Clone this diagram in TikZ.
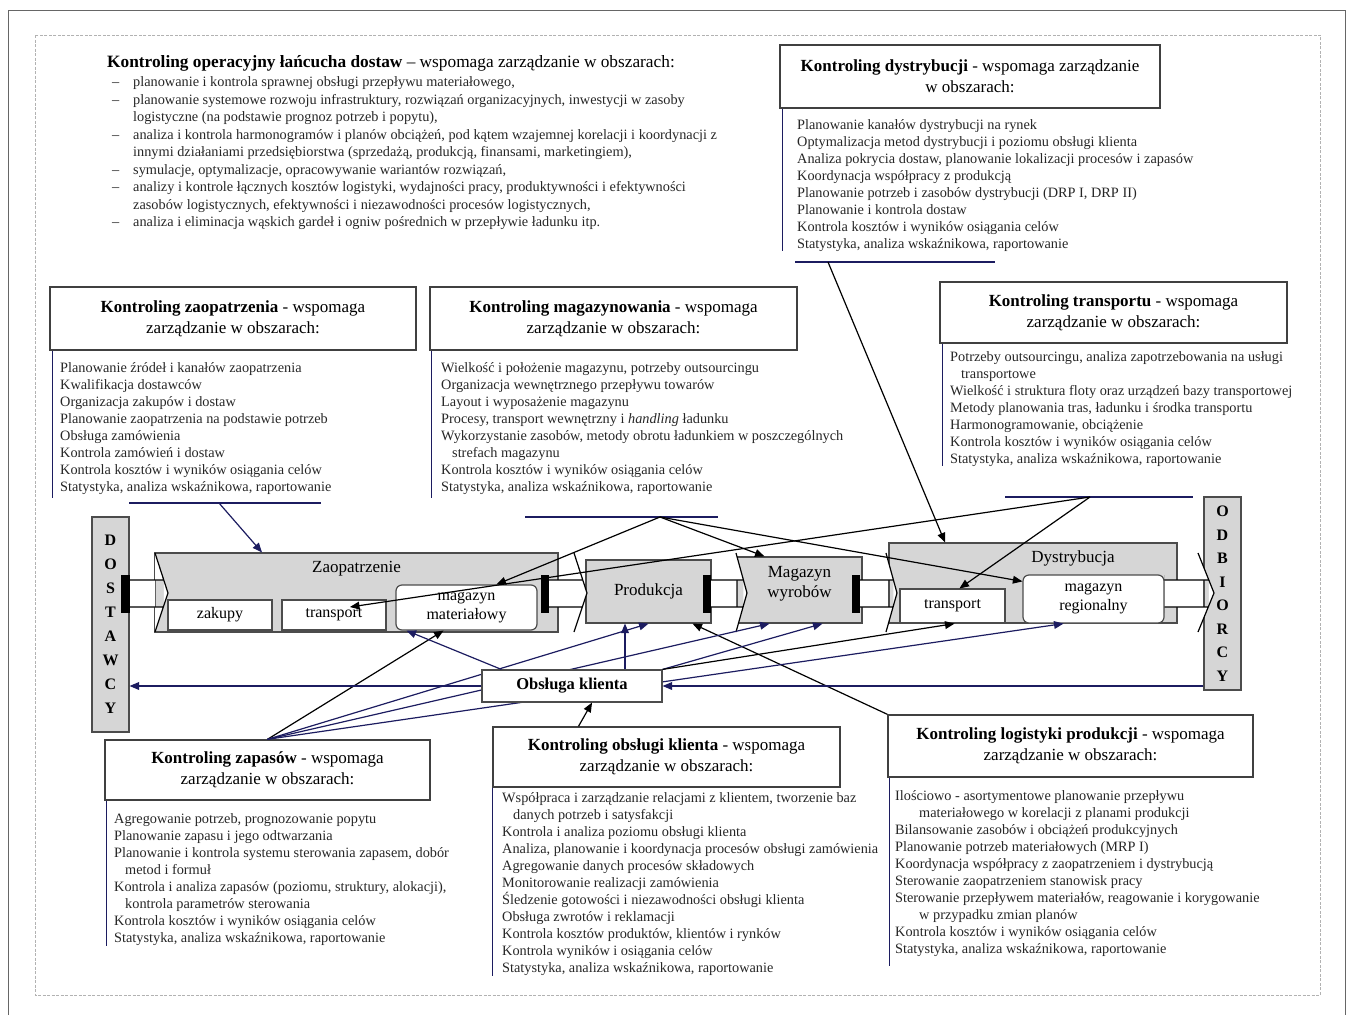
\documentclass[tikz,border=0pt]{standalone}
\usepackage{fontspec}
\setmainfont{Liberation Serif}
\usetikzlibrary{arrows}

\definecolor{granat}{RGB}{28,28,96}
\definecolor{szary}{RGB}{214,214,214}

\newcommand{\punkt}{\makebox[21pt][l]{–}}
\newcommand{\dalej}{\hspace*{21pt}}
\newcommand{\wc}{\hspace*{11pt}}

\begin{document}
\begin{tikzpicture}[>=triangle 45,x=1pt,y=-1pt,
  naglowek/.style={draw=black!75,line width=1.4pt,fill=white,inner sep=0pt,align=center,font=\fontsize{17}{21}\selectfont},
  lista/.style={anchor=north west,inner sep=0pt,align=left,text=black!85,font=\fontsize{14.3}{17}\selectfont,execute at begin node=\strut},
  proces/.style={draw=black!70,line width=1.2pt,fill=szary,inner sep=0pt,align=center,font=\fontsize{17}{20}\selectfont},
  etap/.style={draw=black!70,line width=1.2pt,fill=white,inner sep=0pt,align=center,font=\fontsize{16}{19}\selectfont},
  pion/.style={granat,line width=1.5pt},
  strz/.style={->,line width=1.2pt}]
\useasboundingbox (0,0) rectangle (1347,1015);
% ramki
\draw[black!60,line width=1pt] (8,1015) -- (8,10) -- (1345,10) -- (1345,1015);
\draw[black!30,line width=1pt,dash pattern=on 3pt off 1.5pt] (35,35) rectangle (1320,995);

% kontroling operacyjny
\node[anchor=base west,inner sep=0pt,font=\fontsize{17.3}{20}\selectfont] (oper) at (107,67) {\textbf{Kontroling operacyjny łańcucha dostaw} – wspomaga zarządzanie w obszarach:};
\node[lista,font=\fontsize{14.3}{17.5}\selectfont] (operlista) at (112,76.5) {\punkt planowanie i kontrola sprawnej obsługi przepływu materiałowego,\\
\punkt planowanie systemowe rozwoju infrastruktury, rozwiązań organizacyjnych, inwestycji w zasoby\\
\dalej logistyczne (na podstawie prognoz potrzeb i popytu),\\
\punkt analiza i kontrola harmonogramów i planów obciążeń, pod kątem wzajemnej korelacji i koordynacji z\\
\dalej innymi działaniami przedsiębiorstwa (sprzedażą, produkcją, finansami, marketingiem),\\
\punkt symulacje, optymalizacje, opracowywanie wariantów rozwiązań,\\
\punkt analizy i kontrole łącznych kosztów logistyki, wydajności pracy, produktywności i efektywności\\
\dalej zasobów logistycznych, efektywności i niezawodności procesów logistycznych,\\
\punkt analiza i eliminacja wąskich gardeł i ogniw pośrednich w przepływie ładunku itp.};

% kontroling dystrybucji
\node[naglowek,minimum width=380pt,minimum height=63pt] (dysth) at (970,76.5) {\textbf{Kontroling dystrybucji} - wspomaga zarządzanie\\w obszarach:};
\draw[pion] (dysth.south west) ++(3,0) -- ++(0,142);
\node[lista] (dystlista) at (797,119.5) {Planowanie kanałów dystrybucji na rynek\\
Optymalizacja metod dystrybucji i poziomu obsługi klienta\\
Analiza pokrycia dostaw, planowanie lokalizacji procesów i zapasów\\
Koordynacja współpracy z produkcją\\
Planowanie potrzeb i zasobów dystrybucji (DRP I, DRP II)\\
Planowanie i kontrola dostaw\\
Kontrola kosztów i wyników osiągania celów\\
Statystyka, analiza wskaźnikowa, raportowanie};
\draw[pion] (795,262) -- (995,262);
\coordinate (dystk) at (828,262);

% kontroling zaopatrzenia
\node[naglowek,minimum width=366pt,minimum height=63pt] (zaoph) at (233,318.5) {\textbf{Kontroling zaopatrzenia} - wspomaga\\zarządzanie w obszarach:};
\draw[pion] (zaoph.south west) ++(3,0) -- ++(0,147);
\node[lista] (zaoplista) at (60,362.5) {Planowanie źródeł i kanałów zaopatrzenia\\
Kwalifikacja dostawców\\
Organizacja zakupów i dostaw\\
Planowanie zaopatrzenia na podstawie potrzeb\\
Obsługa zamówienia\\
Kontrola zamówień i dostaw\\
Kontrola kosztów i wyników osiągania celów\\
Statystyka, analiza wskaźnikowa, raportowanie};
\draw[pion] (129,503) -- (321,503);
\coordinate (zaopk) at (219,503);

% kontroling magazynowania
\node[naglowek,minimum width=367pt,minimum height=63pt] (magh) at (613.5,318.5) {\textbf{Kontroling magazynowania} - wspomaga\\zarządzanie w obszarach:};
\draw[pion] (magh.south west) ++(2,0) -- ++(0,147);
\node[lista] (maglista) at (441,362.5) {Wielkość i położenie magazynu, potrzeby outsourcingu\\
Organizacja wewnętrznego przepływu towarów\\
Layout i wyposażenie magazynu\\
Procesy, transport wewnętrzny i \textit{handling} ładunku\\
Wykorzystanie zasobów, metody obrotu ładunkiem w poszczególnych\\
\wc strefach magazynu\\
Kontrola kosztów i wyników osiągania celów\\
Statystyka, analiza wskaźnikowa, raportowanie};
\draw[pion] (525,517) -- (718,517);
\coordinate (magk) at (660,517);

% kontroling transportu
\node[naglowek,minimum width=347pt,minimum height=61pt] (trh) at (1113.5,312.5) {\textbf{Kontroling transportu} - wspomaga\\zarządzanie w obszarach:};
\draw[pion] (trh.south west) ++(3,0) -- ++(0,122);
\node[lista] (trlista) at (950,351.5) {Potrzeby outsourcingu, analiza zapotrzebowania na usługi\\
\wc transportowe\\
Wielkość i struktura floty oraz urządzeń bazy transportowej\\
Metody planowania tras, ładunku i środka transportu\\
Harmonogramowanie, obciążenie\\
Kontrola kosztów i wyników osiągania celów\\
Statystyka, analiza wskaźnikowa, raportowanie};
\draw[pion] (1005,497) -- (1193,497);
\coordinate (trk) at (1090,497);

% kontroling zapasow
\node[naglowek,minimum width=325pt,minimum height=60pt] (zaph) at (267.5,770) {\textbf{Kontroling zapasów} - wspomaga\\zarządzanie w obszarach:};
\draw[pion] (zaph.south west) ++(2,0) -- ++(0,145);
\node[lista] (zaplista) at (114,813.5) {Agregowanie potrzeb, prognozowanie popytu\\
Planowanie zapasu i jego odtwarzania\\
Planowanie i kontrola systemu sterowania zapasem, dobór\\
\wc metod i formuł\\
Kontrola i analiza zapasów (poziomu, struktury, alokacji),\\
\wc kontrola parametrów sterowania\\
Kontrola kosztów i wyników osiągania celów\\
Statystyka, analiza wskaźnikowa, raportowanie};

% kontroling obslugi klienta
\node[naglowek,minimum width=347pt,minimum height=60pt] (obsh) at (666.5,757) {\textbf{Kontroling obsługi klienta} - wspomaga\\zarządzanie w obszarach:};
\draw[pion] (obsh.south west) -- ++(0,188);
\node[lista] (obslista) at (502,792.5) {Współpraca i zarządzanie relacjami z klientem, tworzenie baz\\
\wc danych potrzeb i satysfakcji\\
Kontrola i analiza poziomu obsługi klienta\\
Analiza, planowanie i koordynacja procesów obsługi zamówienia\\
Agregowanie danych procesów składowych\\
Monitorowanie realizacji zamówienia\\
Śledzenie gotowości i niezawodności obsługi klienta\\
Obsługa zwrotów i reklamacji\\
Kontrola kosztów produktów, klientów i rynków\\
Kontrola wyników i osiągania celów\\
Statystyka, analiza wskaźnikowa, raportowanie};

% kontroling logistyki produkcji
\node[naglowek,minimum width=365pt,minimum height=62pt] (logh) at (1070.5,746) {\textbf{Kontroling logistyki produkcji} - wspomaga\\zarządzanie w obszarach:};
\draw[pion] (logh.south west) ++(2,0) -- ++(0,188);
\node[lista] (loglista) at (895,790.5) {Ilościowo - asortymentowe planowanie przepływu\\
\hspace*{24pt}materiałowego w korelacji z planami produkcji\\
Bilansowanie zasobów i obciążeń produkcyjnych\\
Planowanie potrzeb materiałowych (MRP I)\\
Koordynacja współpracy z zaopatrzeniem i dystrybucją\\
Sterowanie zaopatrzeniem stanowisk pracy\\
Sterowanie przepływem materiałów, reagowanie i korygowanie\\
\hspace*{24pt}w przypadku zmian planów\\
Kontrola kosztów i wyników osiągania celów\\
Statystyka, analiza wskaźnikowa, raportowanie};

% lancuch dostaw
\node[proces,minimum width=37pt,minimum height=215pt,font=\bfseries\fontsize{16}{24}\selectfont] (dost) at (110.5,624.5) {D\\O\\S\\T\\A\\W\\C\\Y};
\node[proces,minimum width=37pt,minimum height=193pt,font=\bfseries\fontsize{16}{23.5}\selectfont] (odb) at (1222.5,593.5) {O\\D\\B\\I\\O\\R\\C\\Y};
\node[proces,minimum width=403pt,minimum height=79pt,label={[anchor=north,inner sep=9pt,font=\fontsize{17}{20}\selectfont]north:Zaopatrzenie}] (zaop) at (356.5,592.5) {};
\node[proces,minimum width=125pt,minimum height=63pt] (prod) at (648.5,591.5) {Produkcja};
\node[proces,minimum width=125pt,minimum height=66pt,label={[align=center,yshift=6pt,font=\fontsize{17}{20}\selectfont]center:Magazyn\\wyrobów}] (mwyr) at (799.5,590) {};
\node[proces,minimum width=288pt,minimum height=80pt,label={[anchor=north,xshift=40pt,inner sep=8pt,font=\fontsize{17}{20}\selectfont]north:Dystrybucja}] (dyst) at (1033,583) {};

% strzalki przeplywu
\foreach \a/\b/\c/\w in {121/155/168/9, 541/574/587/8, 703/736/747/8, 852/886/897/8, 1164/1198/1214/0}{
  \pgfmathsetmacro\ta{\b+0.675*(\c-\b)}
  \pgfmathsetmacro\tb{\b+0.641*(\c-\b)}
  \fill[white] (\a,580) rectangle (\ta,607) (\b,553) -- (\c,593) -- (\b,632) -- cycle;
  \draw[line width=1.2pt] (\b,553) -- (\c,593) -- (\b,632) (\a,580) -- (\ta,580) (\a,607) -- (\tb,607);
  \fill (\a,575) rectangle +(\w,38);
}

\node[etap,minimum width=104pt,minimum height=30pt] (zak) at (220,615) {zakupy};
\node[etap,minimum width=104pt,minimum height=30pt] (trz) at (334,615) {transport};
\node[etap,rounded corners=6pt,minimum width=141pt,minimum height=45pt] (mmat) at (466.5,607.5) {magazyn\\materiałowy};
\node[etap,minimum width=105pt,minimum height=34pt] (dtrz) at (952.5,606) {transport};
\node[etap,rounded corners=6pt,minimum width=141pt,minimum height=48pt] (mreg) at (1093.5,599) {magazyn\\regionalny};

% powiazania kontrolingu
\draw[strz,granat] (zaopk) -- ([xshift=-94.5pt]zaop.north);
\draw[strz] (dystk) -- ([xshift=-88pt]dyst.north);
\draw[strz] (magk) -- ([xshift=30pt]mmat.north);
\draw[strz] (magk) -- ([xshift=-35pt]mwyr.north);
\draw[strz] (magk) -- ([yshift=-7pt]mreg.north west);
\draw[strz] (trk) -- ([xshift=16pt,yshift=8pt]trz.center);
\draw[strz] (trk) -- ([xshift=7pt]dtrz.north);
\draw[strz] (logh.north west) -- ([xshift=44pt]prod.south);
\draw[strz] (zaph.north) -- ([xshift=-23pt]mmat.south);
\draw[strz,granat] (zaph.north) -- ([xshift=0pt]prod.south);
\draw[strz,granat] (zaph.north) -- ([xshift=-30pt]mwyr.south);
\draw[strz,granat] (zaph.north) -- ([xshift=-30pt]mreg.south);

% obsluga klienta
\node[etap,minimum width=180pt,minimum height=32pt,font=\bfseries\fontsize{16.5}{19}\selectfont] (obs) at (572,686) {Obsługa klienta};
\draw[strz,granat] ([xshift=20pt]obs.north west) -- ([xshift=-60pt]mmat.south);
\draw[strz,granat] ([xshift=53pt]obs.north) -- ([xshift=-23.5pt]prod.south);
\draw[strz,granat] (obs.north east) -- ([xshift=23pt]mwyr.south);
\draw[strz] (obs.north east) -- ([xshift=2pt]dtrz.south);
\draw[strz,granat] (odb.west |- obs.east) -- (obs.east);
\draw[strz,granat] (obs.west) -- (dost.east |- obs.west);
\draw[strz] ([xshift=-88pt]obsh.north) -- ([xshift=20pt]obs.south);
\end{tikzpicture}
\end{document}
